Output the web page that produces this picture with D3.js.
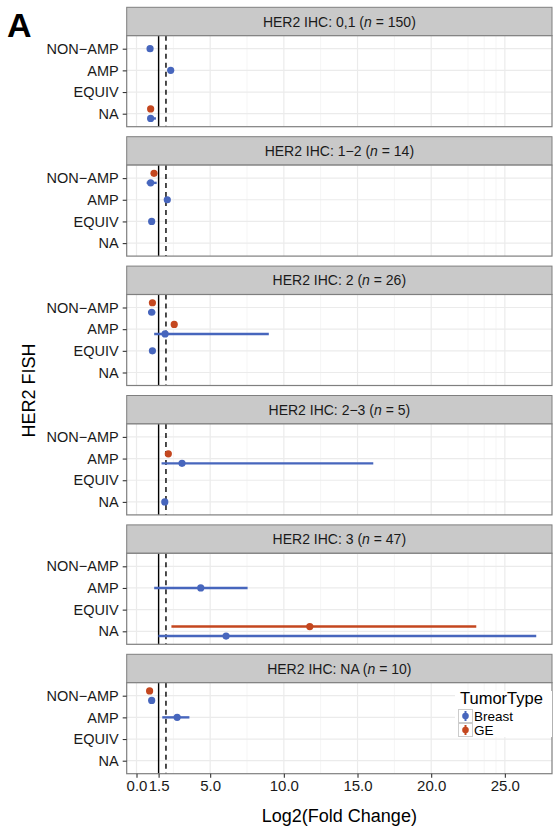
<!DOCTYPE html>
<html>
<head>
<meta charset="utf-8">
<script src="https://cdn.jsdelivr.net/npm/d3@7"></script>
<style>
  body { margin: 0; background: #fff; }
  svg { display: block; font-family: "Liberation Sans", Arial, sans-serif; }
</style>
</head>
<body>
<svg id="chart" width="553" height="827"></svg>
<script>
// IHC facets and their sample counts
const panels = ["0,1", "1\u22122", "2", "2\u22123", "3", "NA"];
const panelN = [150, 14, 26, 5, 47, 10];
const fishLevels = ["NON\u2212AMP", "AMP", "EQUIV", "NA"];
const tumorTypes = ["Breast", "GE"];
const typeColors = ["#4766bd", "#c4471f"];
const xBreaks = [0, 1.5, 5, 10, 15, 20, 25];
const xMinor = [2.5, 7.5, 12.5, 17.5, 22.5, 23.6, 24.4];
const solidRef = 1.5;
const dashedRef = 2.0;

// [panel index, FISH level, estimate, low, high]
const breastRows = [
  [0, "NON\u2212AMP", 0.92, 0.90, 0.95],
  [0, "AMP", 2.32, 2.22, 2.42],
  [0, "NA", 0.96, 0.76, 1.32],
  [1, "NON\u2212AMP", 0.96, 0.69, 1.37],
  [1, "AMP", 2.09, 2.05, 2.12],
  [1, "EQUIV", 1.03, 1.0, 1.06],
  [2, "NON\u2212AMP", 1.03, 0.79, 1.27],
  [2, "AMP", 1.94, 1.2, 8.98],
  [2, "EQUIV", 1.08, 1.05, 1.1],
  [3, "AMP", 3.09, 1.70, 16.07],
  [3, "NA", 1.92, 1.9, 1.95],
  [4, "AMP", 4.36, 1.2, 7.54],
  [4, "NA", 6.08, 1.49, 27.13],
  [5, "NON\u2212AMP", 1.03, 1.0, 1.06],
  [5, "AMP", 2.76, 1.75, 3.59]
];
const geRows = [
  [0, "NA", 0.96, 0.94, 0.98],
  [1, "NON\u2212AMP", 1.19, 1.17, 1.21],
  [2, "NON\u2212AMP", 1.08, 1.06, 1.1],
  [2, "AMP", 2.56, 2.54, 2.58],
  [3, "AMP", 2.16, 2.14, 2.18],
  [4, "NA", 11.76, 2.37, 23.06],
  [5, "NON\u2212AMP", 0.89, 0.87, 0.91]
];

const svg = d3.select("#chart");

const panelLeft = 126.7, panelRight = 552;
const firstTop = 7.3, panelStep = 129.4, stripH = 28.4, panelH = 91;

const x = d3.scaleLinear().domain([-0.665, 28.2]).range([panelLeft, panelRight]);

// combine both series, tagging type
let rows = [];
breastRows.forEach(r => rows.push({panel: r[0], fish: r[1], mid: r[2], lo: r[3], hi: r[4], type: 0}));
geRows.forEach(r => rows.push({panel: r[0], fish: r[1], mid: r[2], lo: r[3], hi: r[4], type: 1}));

// count groups at each facet/level for dodging
let counts = d3.rollup(rows, v => v.length, d => d.panel, d => d.fish);

// big panel letter
svg.append("text")
  .attr("x", 7).attr("y", 37)
  .attr("font-size", 34).attr("font-weight", "bold")
  .text("A");

panels.forEach((p, i) => {
  let stripTop = firstTop + i * panelStep;
  let top = stripTop + stripH;
  let g = svg.append("g");

  let y = d3.scalePoint().domain(fishLevels).range([top, top + panelH]).padding(0.6);
  let step = y.step();

  // strip
  g.append("rect")
    .attr("x", panelLeft).attr("y", stripTop)
    .attr("width", panelRight - panelLeft).attr("height", stripH)
    .attr("fill", "#c9c9c9").attr("stroke", "#7f7f7f").attr("stroke-width", 1);
  let st = g.append("text")
    .attr("x", (panelLeft + panelRight) / 2).attr("y", stripTop + stripH / 2 + 5)
    .attr("text-anchor", "middle").attr("font-size", 14).attr("fill", "#1a1a1a");
  st.append("tspan").text(`HER2 IHC: ${p} (`);
  st.append("tspan").attr("font-style", "italic").text("n");
  st.append("tspan").text(` = ${panelN[i]})`);

  // panel background + grid
  g.append("rect")
    .attr("x", panelLeft).attr("y", top)
    .attr("width", panelRight - panelLeft).attr("height", panelH)
    .attr("fill", "#fff");

  g.selectAll(".minor").data(xMinor).enter().append("line")
    .attr("x1", d => x(d)).attr("x2", d => x(d))
    .attr("y1", top).attr("y2", top + panelH)
    .attr("stroke", "#f5f5f5").attr("stroke-width", 1);

  g.selectAll(".major").data(xBreaks).enter().append("line")
    .attr("x1", d => x(d)).attr("x2", d => x(d))
    .attr("y1", top).attr("y2", top + panelH)
    .attr("stroke", "#ebebeb").attr("stroke-width", 1.2);

  g.selectAll(".hgrid").data(fishLevels).enter().append("line")
    .attr("x1", panelLeft).attr("x2", panelRight)
    .attr("y1", d => y(d)).attr("y2", d => y(d))
    .attr("stroke", "#ebebeb").attr("stroke-width", 1.2);

  // reference lines
  g.append("line")
    .attr("x1", x(solidRef)).attr("x2", x(solidRef))
    .attr("y1", top).attr("y2", top + panelH)
    .attr("stroke", "#000").attr("stroke-width", 1.4);
  g.append("line")
    .attr("x1", x(dashedRef)).attr("x2", x(dashedRef))
    .attr("y1", top).attr("y2", top + panelH)
    .attr("stroke", "#000").attr("stroke-width", 1.4)
    .attr("stroke-dasharray", "5,4");

  // point ranges
  let prow = rows.filter(r => r.panel === i);
  let yPos = r => {
    let n = counts.get(i).get(r.fish);
    if (n < 2) return y(r.fish);
    return y(r.fish) + (r.type === 0 ? 0.22 : -0.22) * step;
  };
  g.selectAll(".range").data(prow).enter().append("line")
    .attr("x1", d => x(d.lo)).attr("x2", d => x(d.hi))
    .attr("y1", yPos).attr("y2", yPos)
    .attr("stroke", d => typeColors[d.type]).attr("stroke-width", 2.4);
  g.selectAll(".pt").data(prow).enter().append("circle")
    .attr("cx", d => x(d.mid)).attr("cy", yPos).attr("r", 3.6)
    .attr("fill", d => typeColors[d.type]);

  // border
  g.append("rect")
    .attr("x", panelLeft).attr("y", top)
    .attr("width", panelRight - panelLeft).attr("height", panelH)
    .attr("fill", "none").attr("stroke", "#7f7f7f").attr("stroke-width", 1.2);

  // y axis
  let yAxis = g.append("g")
    .attr("transform", `translate(${panelLeft},0)`)
    .call(d3.axisLeft(y).tickSize(4).tickPadding(4));
  yAxis.select(".domain").remove();
  yAxis.selectAll(".tick line").attr("stroke", "#333").attr("stroke-width", 1.1);
  yAxis.selectAll(".tick text")
    .attr("font-size", 14.5).attr("fill", "#1a1a1a")
    .attr("font-family", "Liberation Sans, Arial, sans-serif");

  // x axis on last panel only
  if (i === panels.length - 1) {
    let xAxis = g.append("g")
      .attr("transform", `translate(0,${top + panelH})`)
      .call(d3.axisBottom(x).tickValues(xBreaks).tickFormat(d3.format(".1f")).tickSize(4).tickPadding(3));
    xAxis.select(".domain").remove();
    xAxis.selectAll(".tick line").attr("stroke", "#333").attr("stroke-width", 1.1);
    xAxis.selectAll(".tick text")
      .attr("font-size", 15).attr("fill", "#1a1a1a")
      .attr("font-family", "Liberation Sans, Arial, sans-serif");
  }
});

// axis titles
let lastBottom = firstTop + 5 * panelStep + stripH + panelH;
svg.append("text")
  .attr("x", (panelLeft + panelRight) / 2).attr("y", 822)
  .attr("text-anchor", "middle").attr("font-size", 18)
  .text("Log2(Fold Change)");
svg.append("text")
  .attr("transform", `translate(35,${(firstTop + lastBottom) / 2}) rotate(-90)`)
  .attr("text-anchor", "middle").attr("font-size", 18)
  .text("HER2 FISH");

// legend inside the last panel
let leg = svg.append("g").attr("transform", "translate(455,691)");
leg.append("rect").attr("x", 0).attr("y", 0).attr("width", 97).attr("height", 46).attr("fill", "#fff");
leg.append("text").attr("x", 5).attr("y", 13).attr("font-size", 16.5).text("TumorType");
tumorTypes.forEach((t, k) => {
  let ky = 18 + k * 14;
  leg.append("rect").attr("x", 3.5).attr("y", ky + 0.5).attr("width", 14).attr("height", 13)
    .attr("fill", "#fff").attr("stroke", "#cccccc").attr("stroke-width", 1);
  leg.append("line").attr("x1", 10.5).attr("x2", 10.5).attr("y1", ky + 2).attr("y2", ky + 12)
    .attr("stroke", typeColors[k]).attr("stroke-width", 2);
  leg.append("circle").attr("cx", 10.5).attr("cy", ky + 7).attr("r", 3.3).attr("fill", typeColors[k]);
  leg.append("text").attr("x", 19).attr("y", ky + 11.5).attr("font-size", 13.5).text(t);
});
</script>
</body>
</html>
